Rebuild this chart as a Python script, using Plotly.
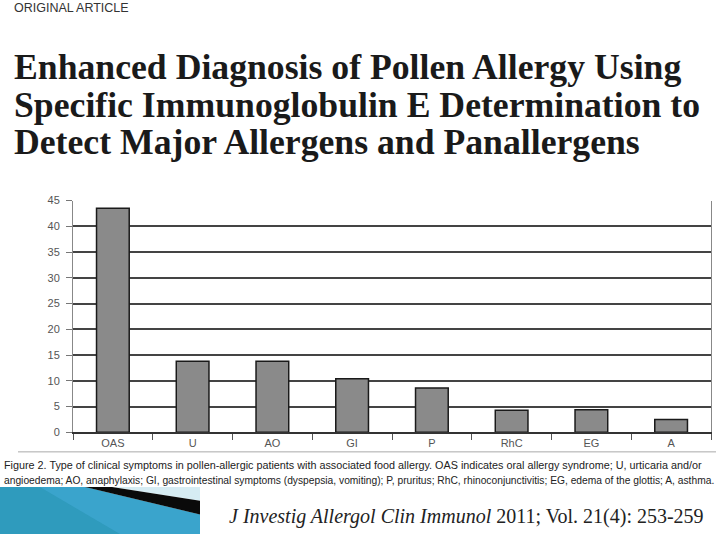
import plotly.graph_objects as go

# ---- data ----
categories = ["OAS", "U", "AO", "GI", "P", "RhC", "EG", "A"]
values = [43.5, 13.8, 13.8, 10.4, 8.6, 4.3, 4.4, 2.5]
y_ticks = [0, 5, 10, 15, 20, 25, 30, 35, 40, 45]

W, H = 720, 540


def px(x):
    return x / W


def py(y):
    return 1 - y / H


fig = go.Figure()
fig.add_trace(go.Bar(
    x=categories, y=values,
    width=0.41,
    marker=dict(color="#8a8a8a", line=dict(color="#1a1a1a", width=1.5)),
    showlegend=False,
    hoverinfo="x+y",
))

tick_font = dict(family="Liberation Sans Narrow, Arial Narrow, Liberation Sans, sans-serif",
                 size=11, color="#555555")

fig.update_layout(
    width=W, height=H,
    margin=dict(l=0, r=0, t=0, b=0),
    paper_bgcolor="white",
    plot_bgcolor="white",
    xaxis=dict(
        domain=[px(73), px(711)],
        showgrid=False,
        showline=True, linecolor="#333333", linewidth=1.5,
        ticks="outside", tickson="boundaries", ticklen=6, tickcolor="#555555",
        tickfont=tick_font,
        fixedrange=True,
    ),
    yaxis=dict(
        domain=[py(436), py(199)],
        range=[0, 45],
        tickvals=y_ticks,
        showgrid=True, gridcolor="#444444", gridwidth=1.6,
        showline=True, linecolor="#888888", linewidth=1, mirror=True,
        ticks="outside", ticklen=6, tickcolor="#777777",
        ticklabelstandoff=4,
        tickfont=tick_font,
        zeroline=False,
        fixedrange=True,
    ),
)

annotations = []
# header
annotations.append(dict(
    text="ORIGINAL ARTICLE", x=px(12), y=py(2), xref="paper", yref="paper",
    xanchor="left", yanchor="middle", showarrow=False,
    font=dict(family="Liberation Sans, Arial, sans-serif", size=12.5, color="#333333"),
))
title_lines = [
    "Enhanced Diagnosis of Pollen Allergy Using",
    "Specific Immunoglobulin E Determination to",
    "Detect Major Allergens and Panallergens",
]
for i, line in enumerate(title_lines):
    annotations.append(dict(
        text="<b>" + line + "</b>", x=px(12), y=py(62.5 + 38.5 * i),
        xref="paper", yref="paper", xanchor="left", yanchor="middle",
        showarrow=False,
        font=dict(family="Liberation Serif, Times New Roman, serif", size=35.7, color="#1a1a1a"),
    ))
caption_lines = [
    "Figure 2. Type of clinical symptoms in pollen-allergic patients with associated food allergy. OAS indicates oral allergy syndrome; U, urticaria and/or",
    "angioedema; AO, anaphylaxis; GI, gastrointestinal symptoms (dyspepsia, vomiting); P, pruritus; RhC, rhinoconjunctivitis; EG, edema of the glottis; A, asthma.",
]
caption_sizes = [10.8, 10.25]
for i, line in enumerate(caption_lines):
    annotations.append(dict(
        text=line, x=px(2), y=py(469 + 16 * i),
        xref="paper", yref="paper", xanchor="left", yanchor="middle",
        showarrow=False,
        font=dict(family="Liberation Sans, Arial, sans-serif",
                  size=caption_sizes[i], color="#222222"),
    ))
annotations.append(dict(
    text="<i>J Investig Allergol Clin Immunol</i> 2011; Vol. 21(4): 253-259",
    x=px(227), y=py(522), xref="paper", yref="paper",
    xanchor="left", yanchor="middle", showarrow=False,
    font=dict(family="Liberation Serif, Times New Roman, serif", size=20, color="#222222"),
))
fig.update_layout(annotations=annotations)


# decorative shapes (slide template)
def path(points):
    return "M " + " L ".join(f"{px(x)},{py(y)}" for x, y in points) + " Z"


shapes = [
    # frame line under chart
    dict(type="line", xref="paper", yref="paper", x0=px(18), x1=px(716), y0=py(456), y1=py(456),
         line=dict(color="#aaaaaa", width=1)),
    # teal block
    dict(type="path", xref="paper", yref="paper", path=path([(0, 492), (85, 492), (200, 520), (200, 540), (0, 540)]),
         fillcolor="#2f9bbd", line=dict(width=0)),
    dict(type="path", xref="paper", yref="paper", path=path([(40, 492), (85, 492), (200, 520), (200, 540), (120, 540)]),
         fillcolor="#45addb", opacity=0.5, line=dict(width=0)),
    # light strip
    dict(type="path", xref="paper", yref="paper", path=path([(112, 492), (200, 492), (200, 506)]),
         fillcolor="#d6ecf3", line=dict(width=0)),
    # black band
    dict(type="path", xref="paper", yref="paper", path=path([(85, 492), (112, 492), (200, 506), (200, 520)]),
         fillcolor="#0a0a0a", line=dict(width=0)),
]
fig.update_layout(shapes=shapes)

fig.write_html(
    "out.html",
    config={"displayModeBar": False},
    post_script="document.body.style.margin='0';document.body.style.padding='0';",
)
